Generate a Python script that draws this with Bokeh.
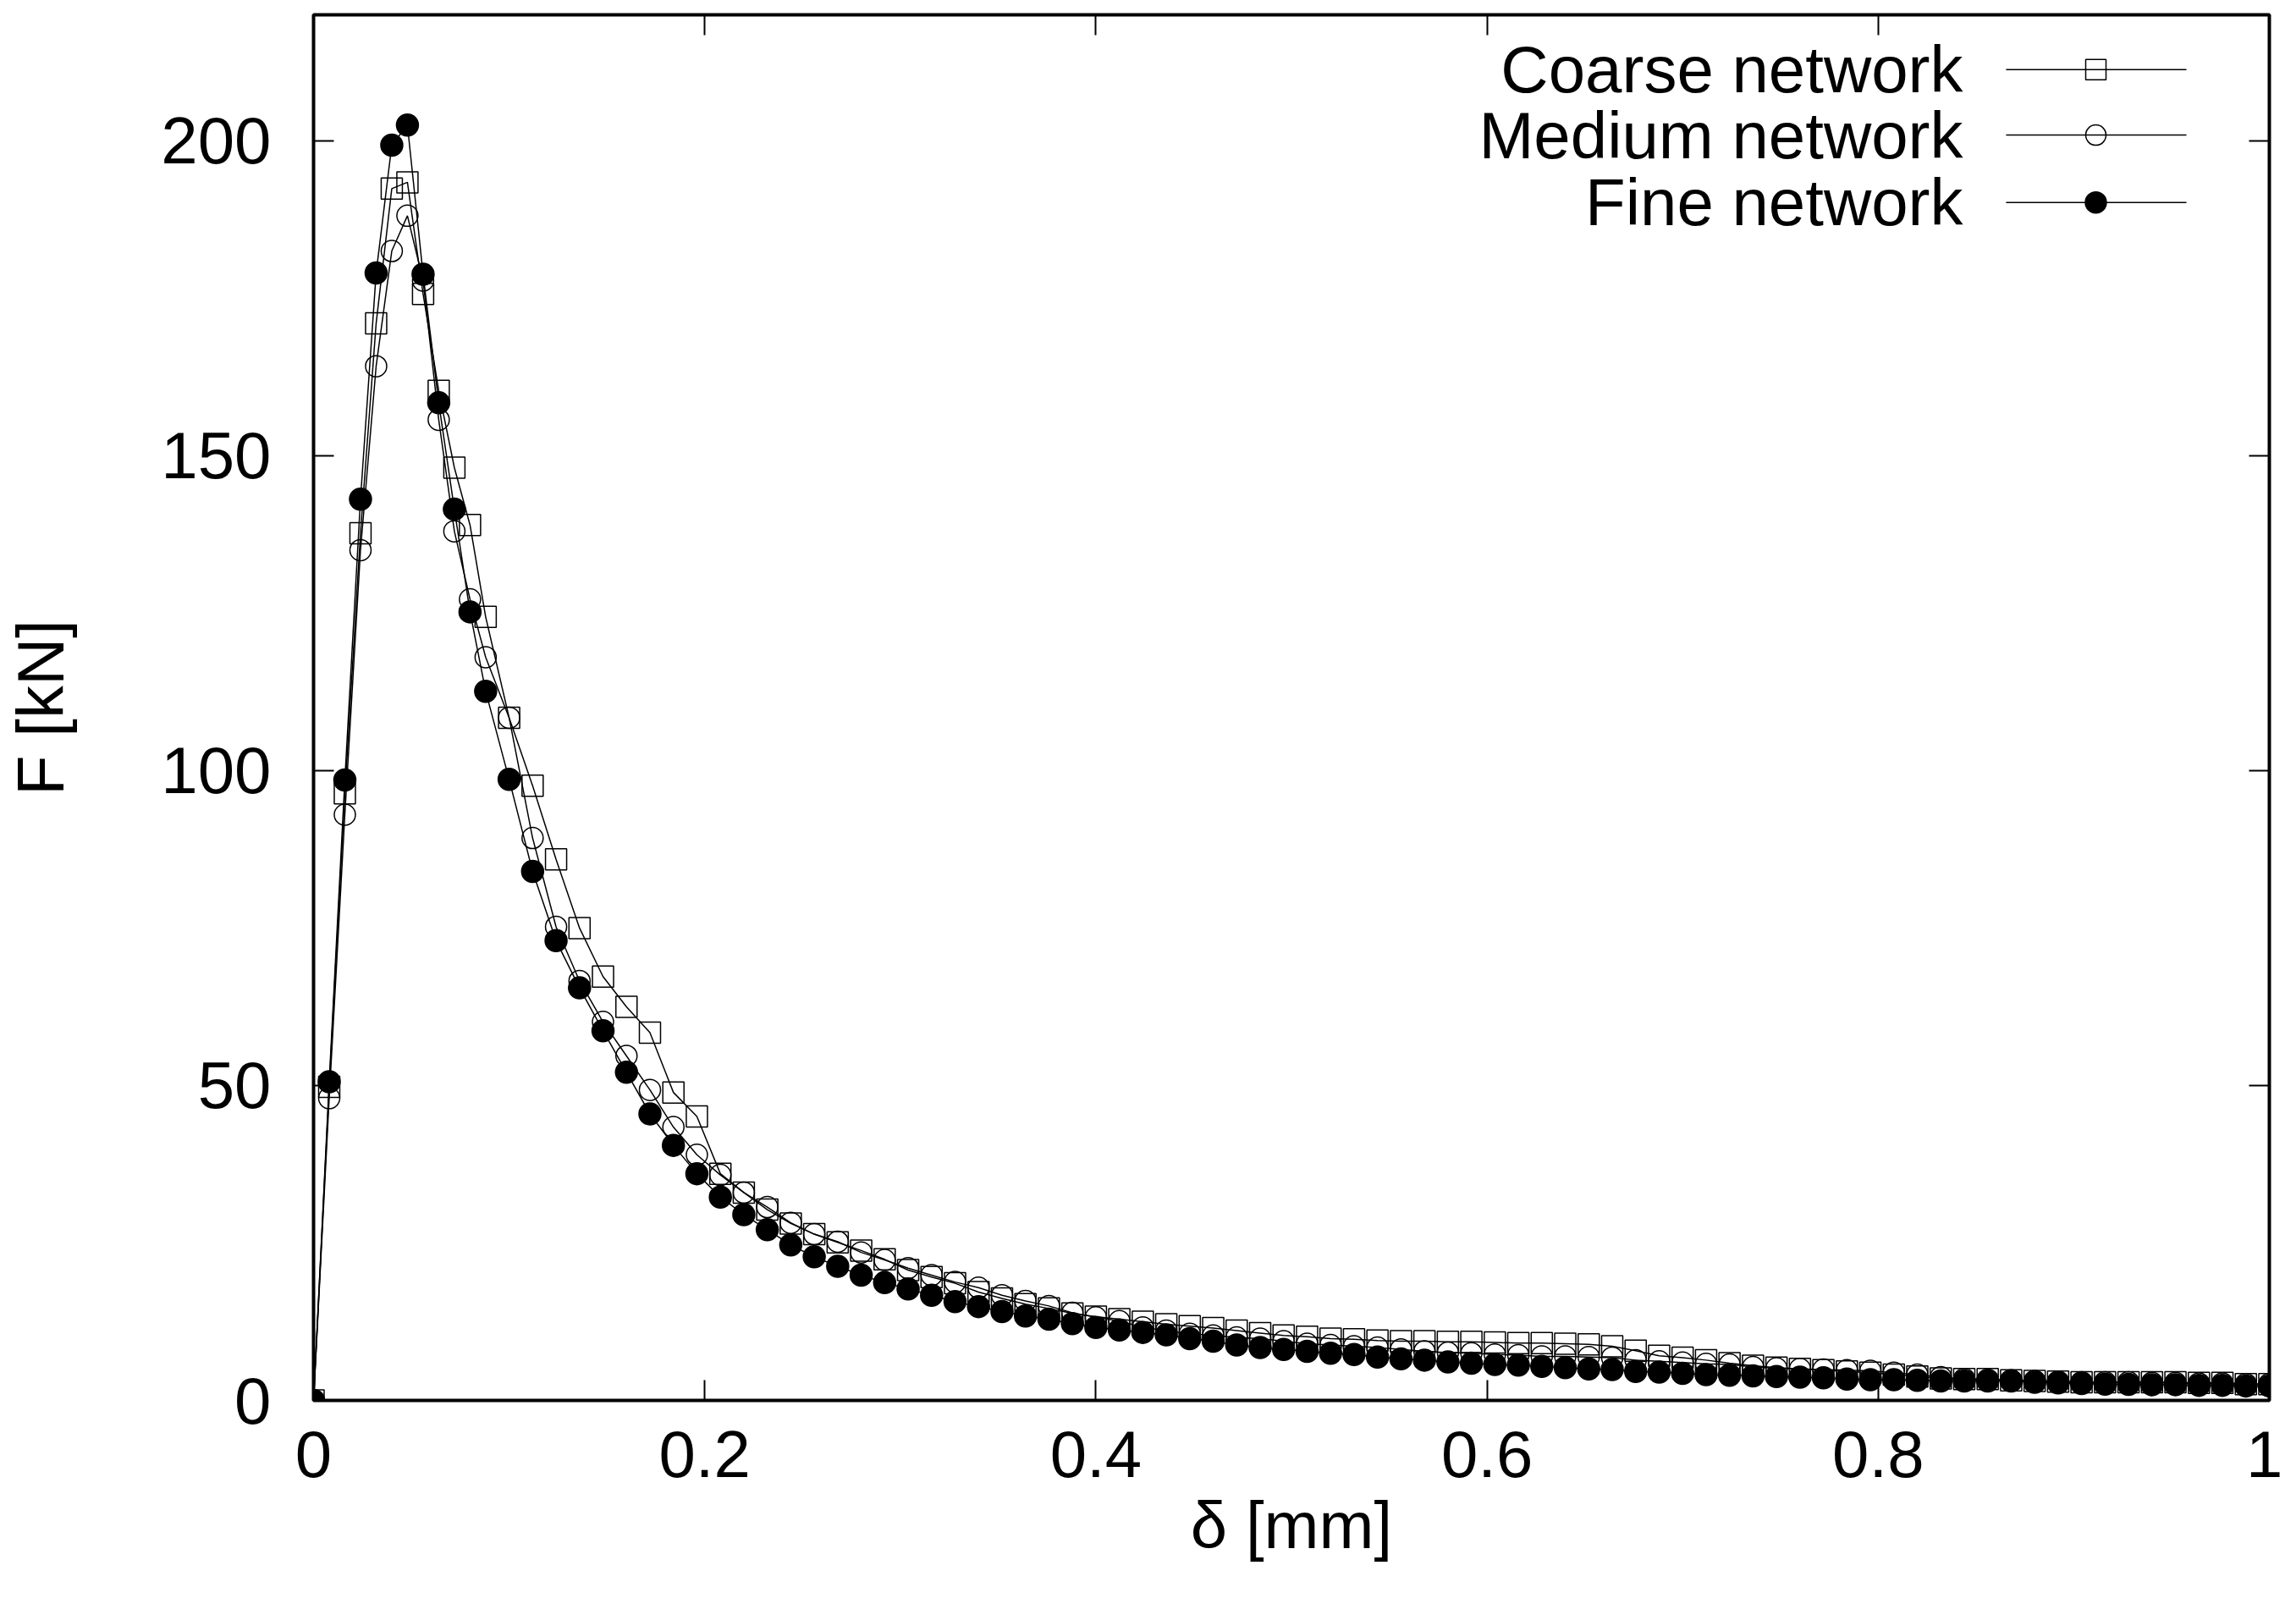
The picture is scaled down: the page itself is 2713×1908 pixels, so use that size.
from bokeh.plotting import figure
from bokeh.models import Range1d, FixedTicker, LinearAxis, CustomJSTickFormatter
from bokeh.embed import file_html
from bokeh.resources import INLINE
from bokeh.core.properties import value

# ---------------- data ----------------
delta_mm = [0.000, 0.008, 0.016, 0.024, 0.032, 0.040, 0.048, 0.056, 0.064, 0.072, 0.080, 0.088,
            0.100, 0.112, 0.124, 0.136, 0.148, 0.160, 0.172, 0.184, 0.196, 0.208, 0.220, 0.232, 0.244,
            0.256, 0.268, 0.280, 0.292, 0.304, 0.316, 0.328, 0.340, 0.352, 0.364, 0.376, 0.388, 0.400,
            0.412, 0.424, 0.436, 0.448, 0.460, 0.472, 0.484, 0.496, 0.508, 0.520, 0.532, 0.544, 0.556,
            0.568, 0.580, 0.592, 0.604, 0.616, 0.628, 0.640, 0.652, 0.664, 0.676, 0.688, 0.700,
            0.712, 0.724, 0.736, 0.748, 0.760, 0.772, 0.784, 0.796, 0.808, 0.820, 0.832, 0.844, 0.856,
            0.868, 0.880, 0.892, 0.904, 0.916, 0.928, 0.940, 0.952, 0.964, 0.976, 0.988, 1.000]

coarse_kN = [0, 49.8, 96.4, 137.7, 171.0, 192.4, 193.4, 175.7, 160.3, 148.1, 139.0, 124.4,
             108.4, 97.6, 85.9, 75.0, 67.3, 62.5, 58.4, 48.9, 45.1, 36.0, 33.0, 30.3, 28.1,
             26.4, 25.1, 23.8, 22.4, 20.7, 19.6, 18.6, 17.2, 16.2, 15.3, 14.6, 13.8, 13.3,
             12.9, 12.5, 12.1, 11.8, 11.5, 11.1, 10.7, 10.3, 10.1, 9.8, 9.7, 9.5, 9.4,
             9.4, 9.3, 9.3, 9.2, 9.1, 9.1, 9.0, 8.9, 8.6, 7.9, 7.1, 6.8,
             6.4, 5.9, 5.5, 5.2, 5.0, 4.8, 4.6, 4.4, 4.1, 3.8, 3.5, 3.4, 3.4,
             3.2, 3.1, 3.0, 2.9, 2.9, 2.9, 2.9, 2.9, 2.8, 2.8, 2.6, 2.6]

medium_kN = [0, 48.0, 93.0, 135.0, 164.2, 182.5, 188.1, 177.8, 155.7, 138.0, 127.2, 118.0,
             108.4, 89.3, 75.2, 66.6, 60.1, 54.7, 49.3, 43.4, 39.0, 35.8, 33.0, 30.7, 28.2,
             26.4, 25.2, 23.5, 22.3, 21.0, 19.9, 18.8, 17.9, 16.7, 15.8, 15.0, 13.9, 13.2,
             12.6, 11.6, 11.1, 10.6, 10.3, 10.0, 9.8, 9.4, 9.0, 8.8, 8.6, 8.4, 8.1,
             7.8, 7.6, 7.5, 7.3, 7.2, 7.0, 7.0, 6.9, 6.8, 6.4, 6.2, 6.0,
             5.8, 5.7, 5.3, 5.1, 5.0, 4.9, 4.8, 4.7, 4.4, 4.1, 3.7, 3.4, 3.3,
             3.2, 3.1, 3.0, 2.9, 2.9, 2.9, 2.8, 2.8, 2.7, 2.7, 2.6, 2.6]

fine_kN = [0, 50.6, 98.5, 143.1, 179.0, 199.3, 202.5, 178.8, 158.4, 141.5, 125.2, 112.6,
           98.6, 84.0, 73.0, 65.5, 58.7, 52.1, 45.5, 40.5, 36.0, 32.3, 29.5, 27.1, 24.7,
           22.8, 21.3, 19.9, 18.7, 17.7, 16.7, 15.7, 14.9, 14.1, 13.4, 12.9, 12.2, 11.6,
           11.2, 10.8, 10.4, 9.8, 9.4, 8.8, 8.4, 8.1, 7.8, 7.5, 7.3, 6.9, 6.6,
           6.4, 6.1, 5.9, 5.7, 5.6, 5.4, 5.2, 5.0, 4.9, 4.6, 4.5, 4.3,
           4.1, 4.0, 3.9, 3.8, 3.7, 3.6, 3.4, 3.3, 3.3, 3.2, 3.1, 3.1, 3.1,
           3.1, 2.9, 2.8, 2.7, 2.6, 2.55, 2.5, 2.5, 2.4, 2.4, 2.3, 2.3]

series_names = ["Coarse network", "Medium network", "Fine network"]
x_ticks = [0, 0.2, 0.4, 0.6, 0.8, 1]
y_ticks = [0, 50, 100, 150, 200]
x_title = "δ [mm]"
y_title = "F [kN]"

# ---------------- styling ----------------
FONT = "Liberation Sans"
FS = "78px"
W, H = 2697, 1892

p = figure(width=W, height=H, output_backend="svg", toolbar_location=None,
           x_range=Range1d(0, 1), y_range=Range1d(0, 220),
           min_border_left=370, min_border_right=16, min_border_top=17, min_border_bottom=238,
           x_axis_label=x_title, y_axis_label=y_title)
p.grid.visible = False
p.outline_line_color = "black"
p.outline_line_width = 4
p.background_fill_color = "white"
p.border_fill_color = "white"

fmt = CustomJSTickFormatter(code="return String(tick);")
blank = CustomJSTickFormatter(code="return '';")


def style_axis(ax, ticks, show):
    ax.ticker = FixedTicker(ticks=ticks)
    ax.formatter = fmt if show else blank
    ax.axis_line_color = None
    ax.major_tick_in = 24
    ax.major_tick_out = 0
    ax.major_tick_line_width = 2
    ax.major_tick_line_color = "black"
    ax.minor_tick_line_color = None
    ax.major_label_text_font = FONT
    ax.major_label_text_font_size = FS if show else "0px"
    ax.major_label_text_color = "black"
    ax.axis_label_text_font = FONT
    ax.axis_label_text_font_size = FS
    ax.axis_label_text_font_style = "normal"
    ax.axis_label_text_color = "black"


style_axis(p.xaxis[0], x_ticks, True)
style_axis(p.yaxis[0], y_ticks, True)
p.xaxis[0].major_label_standoff = 36
p.xaxis[0].axis_label_standoff = 10
p.yaxis[0].major_label_standoff = 50
p.yaxis[0].axis_label_standoff = 95

top_ax = LinearAxis()
style_axis(top_ax, x_ticks, False)
top_ax.major_label_standoff = 0
p.add_layout(top_ax, "above")
right_ax = LinearAxis()
style_axis(right_ax, y_ticks, False)
right_ax.major_label_standoff = 0
p.add_layout(right_ax, "right")

LW = 1.5
# Coarse
p.line(delta_mm, coarse_kN, line_color="black", line_width=LW)
p.scatter(delta_mm, coarse_kN, marker="square", size=25, fill_color=None,
          line_color="black", line_width=LW)
# Medium
p.line(delta_mm, medium_kN, line_color="black", line_width=LW)
p.scatter(delta_mm, medium_kN, marker="circle", size=25, fill_color=None,
          line_color="black", line_width=LW)
# Fine
p.line(delta_mm, fine_kN, line_color="black", line_width=LW)
p.scatter(delta_mm, fine_kN, marker="circle", size=26, fill_color="black",
          line_color="black", line_width=LW)

# ---------------- key (gnuplot style: label left, sample right) ----------------
key_y = [211.3, 200.9, 190.2]
key_text_x = 0.8434
key_x0, key_x1, key_xm = 0.8654, 0.9576, 0.9113
p.text(x=[key_text_x] * 3, y=key_y, text=series_names, text_align="right",
       text_baseline="middle", text_font=value(FONT), text_font_size=FS, text_color="black")
for yk in key_y:
    p.line([key_x0, key_x1], [yk, yk], line_color="black", line_width=LW)
p.scatter([key_xm], [key_y[0]], marker="square", size=24, fill_color=None,
          line_color="black", line_width=LW)
p.scatter([key_xm], [key_y[1]], marker="circle", size=24, fill_color=None,
          line_color="black", line_width=LW)
p.scatter([key_xm], [key_y[2]], marker="circle", size=25, fill_color="black",
          line_color="black", line_width=LW)

open("out.html", "w").write(file_html(p, INLINE))
